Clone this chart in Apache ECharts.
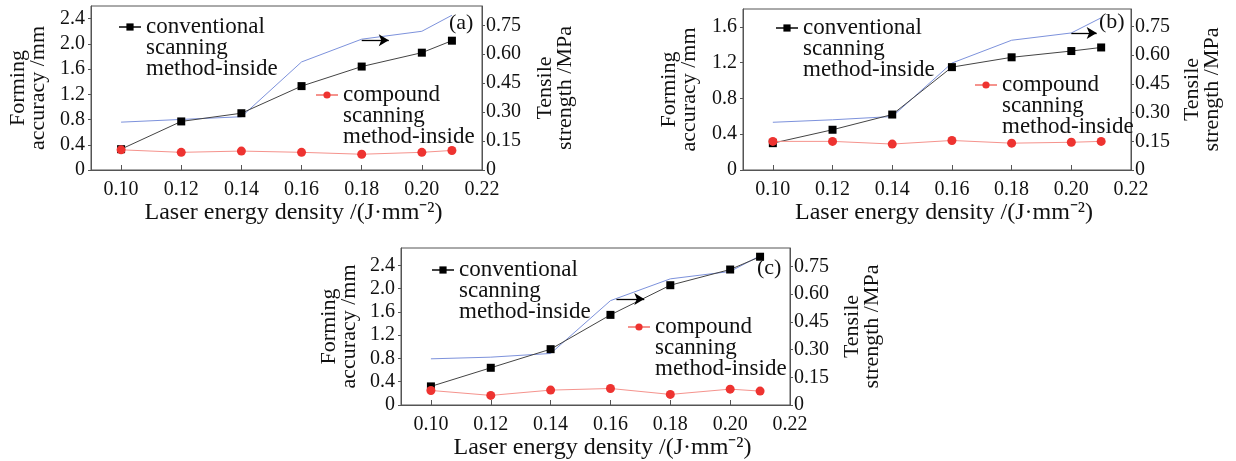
<!DOCTYPE html>
<html><head><meta charset="utf-8">
<script src="https://cdn.jsdelivr.net/npm/echarts@6/dist/echarts.min.js"></script>
<style>html,body{margin:0;padding:0;background:#fff}#c{width:1236px;height:461px}</style>
</head><body><div id="c"></div>
<script>
// ---- data ----
const xValues = [0.10, 0.12, 0.14, 0.16, 0.18, 0.20, 0.21];
const xTickLabels = [0.10, 0.12, 0.14, 0.16, 0.18, 0.20, 0.22];
const leftTicksAC = [0, 0.4, 0.8, 1.2, 1.6, 2.0, 2.4];
const leftTicksB = [0, 0.4, 0.8, 1.2, 1.6];
const rightTicks = [0, 0.15, 0.30, 0.45, 0.60, 0.75];

const convA = [0.33, 0.77, 0.90, 1.33, 1.64, 1.86, 2.05];
const compA = [0.32, 0.28, 0.30, 0.28, 0.25, 0.28, 0.31];
const tensA = [0.248, 0.262, 0.276, 0.560, 0.678, 0.719, 0.802];

const convB = [0.30, 0.45, 0.62, 1.15, 1.26, 1.33, 1.37];
const compB = [0.32, 0.32, 0.29, 0.33, 0.30, 0.31, 0.32];
const tensB = [0.249, 0.262, 0.279, 0.558, 0.677, 0.715, 0.794];

const convC = [0.32, 0.64, 0.96, 1.55, 2.06, 2.33, 2.55];
const compC = [0.25, 0.165, 0.256, 0.284, 0.182, 0.273, 0.239];
const tensC = [0.250, 0.259, 0.279, 0.565, 0.683, 0.723, 0.808];

const arrowA = [[0.180, 0.672], [0.189, 0.672]];
const arrowB = [[0.200, 0.715], [0.2085, 0.715]];
const arrowC = [[0.162, 0.574], [0.1713, 0.574]];

const nameConv = 'conventional scanning method-inside';
const nameComp = 'compound scanning method-inside';
const legendConvText = 'conventional\nscanning\nmethod-inside';
const legendCompText = 'compound\nscanning\nmethod-inside';
const panelLabels = ['(a)', '(b)', '(c)'];
const xTitle = 'Laser energy density /(J·mm⁻²)';
const leftTitle = 'Forming\naccuracy /mm';
const rightTitle = 'Tensile\nstrength /MPa';

// ---- layout ----
const FONT = 'Liberation Serif';
const TXT = '#111';
const AX = '#555';
const LH = 21;
const panels = [
  { grid: {left: 91, top: 6, width: 391, height: 164}, leftMax: 2.6, rightMax: 0.85, leftTicks: leftTicksAC,
    conv: convA, comp: compA, tens: tensA, arrow: arrowA,
    legConv: [129, 26], legComp: [326, 94], label: [449, 12], lGap: 43, rGap: 53 },
  { grid: {left: 743, top: 9, width: 388, height: 161}, leftMax: 1.8, rightMax: 0.84, leftTicks: leftTicksB,
    conv: convB, comp: compB, tens: tensB, arrow: arrowB,
    legConv: [786, 27], legComp: [985, 84], label: [1099, 11], lGap: 44, rGap: 51 },
  { grid: {left: 401, top: 248, width: 389, height: 158}, leftMax: 2.7, rightMax: 0.85, leftTicks: leftTicksAC,
    conv: convC, comp: compC, tens: tensC, arrow: arrowC,
    legConv: [442, 269], legComp: [638, 326], label: [757, 257], lGap: 42, rGap: 52 }
];

const grids = [], xAxes = [], yAxes = [], series = [], legends = [], titles = [];
panels.forEach((p, i) => {
  grids.push(Object.assign({show: true, borderColor: AX, borderWidth: 1, backgroundColor: 'transparent'}, p.grid));
  xAxes.push({
    type: 'value', gridIndex: i, min: 0.09, max: 0.22,
    name: xTitle, nameLocation: 'middle', nameGap: 31,
    nameTextStyle: {fontFamily: FONT, fontSize: 24, color: TXT, padding: [0, 0, 0, 14]},
    axisLine: {show: true, lineStyle: {color: AX}},
    axisTick: {show: true, inside: true, length: 5, customValues: xTickLabels, lineStyle: {color: AX}},
    axisLabel: {customValues: xTickLabels, margin: 10, fontFamily: FONT, fontSize: 20, color: TXT,
      formatter: v => v.toFixed(2)},
    splitLine: {show: false}
  });
  yAxes.push({
    type: 'value', gridIndex: i, position: 'left', min: 0, max: p.leftMax,
    name: leftTitle, nameLocation: 'middle', nameGap: p.lGap, nameRotate: 90,
    nameTextStyle: {fontFamily: FONT, fontSize: 22, lineHeight: 20, color: TXT, align: 'center'},
    axisLine: {show: true, lineStyle: {color: AX}},
    axisTick: {show: true, inside: false, length: 3, customValues: p.leftTicks, lineStyle: {color: AX}},
    axisLabel: {customValues: p.leftTicks, margin: 6, fontFamily: FONT, fontSize: 20, color: TXT,
      formatter: v => v === 0 ? '0' : v.toFixed(1)},
    splitLine: {show: false}
  });
  yAxes.push({
    type: 'value', gridIndex: i, position: 'right', min: 0, max: p.rightMax,
    name: rightTitle, nameLocation: 'middle', nameGap: p.rGap, nameRotate: 90,
    nameTextStyle: {fontFamily: FONT, fontSize: 22, lineHeight: 20, color: TXT, align: 'center'},
    axisLine: {show: true, lineStyle: {color: AX}},
    axisTick: {show: true, inside: false, length: 3, customValues: rightTicks, lineStyle: {color: AX}},
    axisLabel: {customValues: rightTicks, margin: 4, fontFamily: FONT, fontSize: 20, color: TXT,
      formatter: v => v === 0 ? '0' : v.toFixed(2)},
    splitLine: {show: false}
  });
  series.push({
    name: nameConv, type: 'line', xAxisIndex: i, yAxisIndex: 2 * i,
    data: xValues.map((x, j) => [x, p.conv[j]]),
    symbol: 'rect', symbolSize: 8, z: 4,
    lineStyle: {color: '#444', width: 1}, itemStyle: {color: '#000'}
  });
  series.push({
    name: nameComp, type: 'line', xAxisIndex: i, yAxisIndex: 2 * i,
    data: xValues.map((x, j) => [x, p.comp[j]]),
    symbol: 'circle', symbolSize: 9, z: 4,
    lineStyle: {color: '#f5938d', width: 1}, itemStyle: {color: '#ee3330'}
  });
  series.push({
    name: 'tensile', type: 'line', xAxisIndex: i, yAxisIndex: 2 * i + 1,
    data: xValues.map((x, j) => [x, p.tens[j]]),
    showSymbol: false, symbol: 'none', z: 3,
    lineStyle: {color: '#7d92dc', width: 1},
    markLine: {
      silent: true, symbol: ['none', 'arrow'], symbolSize: [9, 10],
      lineStyle: {color: '#000', width: 1.3, type: 'solid'},
      label: {show: false}, emphasis: {disabled: true},
      data: [[{coord: p.arrow[0]}, {coord: p.arrow[1]}]]
    }
  });
  const legBase = {
    orient: 'vertical', itemWidth: 22, itemHeight: 9, padding: 0, selectedMode: false,
    textStyle: {fontFamily: FONT, fontSize: 23, lineHeight: LH, color: TXT}
  };
  // two leading blank lines put the first text line level with the legend symbol
  legends.push(Object.assign({}, legBase, {
    data: [nameConv], left: p.legConv[0] - 11, top: p.legConv[1] - 2.5 * LH, formatter: () => '\n\n' + legendConvText
  }));
  legends.push(Object.assign({}, legBase, {
    data: [nameComp], left: p.legComp[0] - 11, top: p.legComp[1] - 2.5 * LH, formatter: () => '\n\n' + legendCompText
  }));
  titles.push({
    text: panelLabels[i], left: p.label[0], top: p.label[1], padding: 0,
    textStyle: {fontFamily: FONT, fontSize: 22, fontWeight: 'normal', color: TXT}
  });
});

const chart = echarts.init(document.getElementById('c'), null, {renderer: 'canvas'});
chart.setOption({
  animation: false,
  backgroundColor: '#fff',
  title: titles,
  legend: legends,
  grid: grids,
  xAxis: xAxes,
  yAxis: yAxes,
  series: series
});
</script>
</body></html>
